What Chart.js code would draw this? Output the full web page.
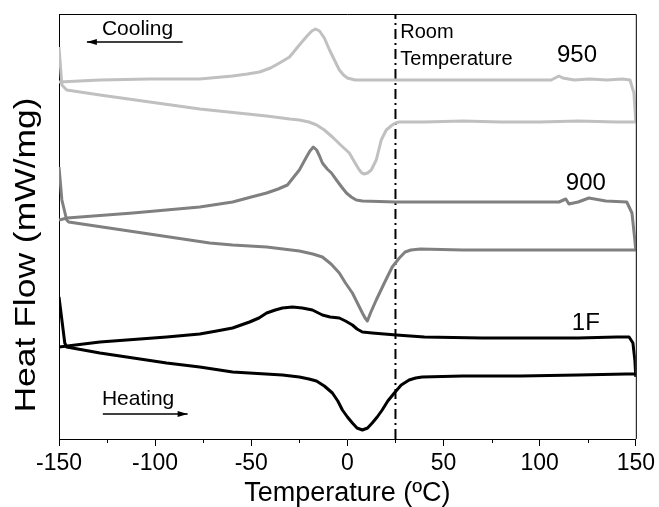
<!DOCTYPE html>
<html lang="en">
<head>
    <meta charset="UTF-8">
    <title>DSC Heat Flow</title>
    <style>
        body {
            margin: 0;
            background-color: #ffffff;
        }

        #wrap {
            width: 659px;
            height: 507px;
        }
    </style>
</head>
<body>
    <div id="wrap">
        <canvas id="myChart" width="659" height="507"></canvas>
    </div>

    <script src="https://cdn.jsdelivr.net/npm/chart.js"></script>
    <script>
        // temperatures in degC, heat flow in arbitrary mW/mg offsets (curves are stacked)
        var heat950T = [-150, -148.5, -146, -128.7, -102.8, -76.8, -42, -30, -25, -20, -16, -12, -7.8, -3.5, 1, 4, 6.2, 7.5, 8.8, 10.5, 12.4, 15, 17.6, 20.2, 23.3, 25, 27, 40, 60, 80, 100, 120, 140, 150];
        var heat950HF = [3.92, 3.54, 3.49, 3.44, 3.37, 3.30, 3.23, 3.20, 3.19, 3.17, 3.14, 3.09, 3.02, 2.94, 2.86, 2.76, 2.69, 2.66, 2.65, 2.66, 2.69, 2.79, 2.99, 3.09, 3.14, 3.16, 3.17, 3.17, 3.18, 3.17, 3.17, 3.18, 3.17, 3.17];
        var cool950T = [150, 149, 147, 143, 135, 126, 118, 112, 110, 106, 95, 80, 60, 40, 25, 10, 4, 0, -2, -4.2, -6.5, -9.3, -12, -14.5, -16.6, -18.5, -21, -25, -30.1, -35.3, -40, -45.7, -52, -59.7, -76.8, -102.8, -128.7, -150];
        var cool950HF = [3.17, 3.46, 3.59, 3.60, 3.59, 3.60, 3.59, 3.61, 3.63, 3.59, 3.59, 3.59, 3.59, 3.59, 3.59, 3.59, 3.59, 3.61, 3.64, 3.69, 3.78, 3.89, 4.01, 4.08, 4.10, 4.08, 4.03, 3.94, 3.82, 3.76, 3.71, 3.67, 3.65, 3.63, 3.60, 3.60, 3.59, 3.57];

        var heat900T = [-150, -148.5, -146, -145, -110, -71.6, -59.7, -42, -25, -18, -13, -8.5, -4.2, -1, 2.6, 5.2, 7.8, 9.2, 10.4, 12, 15, 19.2, 23.3, 27, 30, 33, 38, 60, 90, 120, 150];
        var heat900HF = [2.72, 2.39, 2.19, 2.17, 2.07, 1.96, 1.94, 1.92, 1.88, 1.85, 1.82, 1.75, 1.66, 1.56, 1.46, 1.36, 1.26, 1.21, 1.18, 1.26, 1.39, 1.56, 1.72, 1.81, 1.87, 1.89, 1.90, 1.89, 1.89, 1.89, 1.89];
        var cool900T = [150, 149.5, 148, 145.3, 134.4, 125.6, 120, 115.2, 113.6, 110, 90, 60, 25, 7.8, 4.6, 2, -0.5, -3, -5.7, -8.3, -10.5, -13, -14.5, -16, -17.7, -19.5, -21.3, -23, -25, -31.2, -36, -42, -50, -59.7, -76.8, -111.6, -145.8, -150];
        var cool900HF = [1.88, 1.99, 2.26, 2.37, 2.38, 2.41, 2.37, 2.35, 2.40, 2.37, 2.37, 2.37, 2.37, 2.38, 2.39, 2.42, 2.46, 2.52, 2.59, 2.66, 2.70, 2.76, 2.83, 2.89, 2.92, 2.88, 2.82, 2.76, 2.69, 2.54, 2.50, 2.46, 2.42, 2.37, 2.32, 2.26, 2.21, 2.19];

        var heat1FT = [-150, -147, -146, -128.7, -94, -76.8, -59.7, -33.8, -25, -20, -16.1, -12, -7.8, -5, -2.6, 0, 2.6, 5, 7.8, 10.5, 12.9, 15.5, 18.1, 21, 24.4, 28, 32.1, 35.5, 38.9, 60, 90, 120, 145, 150];
        var heat1FHF = [1.42, 0.96, 0.92, 0.86, 0.76, 0.72, 0.67, 0.64, 0.62, 0.60, 0.58, 0.53, 0.46, 0.38, 0.29, 0.22, 0.16, 0.11, 0.09, 0.11, 0.16, 0.22, 0.29, 0.38, 0.46, 0.54, 0.59, 0.61, 0.62, 0.63, 0.63, 0.64, 0.65, 0.65];
        var cool1FT = [150, 149.5, 148.5, 146.5, 140, 120, 100, 70, 40, 25.4, 12.9, 7.8, 5, 2.6, -1, -4.2, -9, -13, -18.2, -23.5, -28.6, -33.8, -37.5, -42, -46, -50.9, -59.7, -68, -76.8, -94, -128.7, -150];
        var cool1FHF = [0.62, 0.79, 0.96, 1.02, 1.02, 1.01, 1.01, 1.01, 1.02, 1.04, 1.06, 1.07, 1.10, 1.14, 1.18, 1.21, 1.22, 1.24, 1.29, 1.31, 1.32, 1.31, 1.29, 1.26, 1.21, 1.17, 1.11, 1.08, 1.05, 1.02, 0.97, 0.92];

        var roomTemp = 25;
        var xTicks = [-150, -100, -50, 0, 50, 100, 150];
        var xMinorTicks = [-125, -75, -25, 25, 75, 125];
        var sampleLabels = [
            { text: '950', t: 109, hf: 3.77 },
            { text: '900', t: 113.6, hf: 2.49 },
            { text: '1F', t: 116.7, hf: 1.09 }
        ];

        var FONT = '"Liberation Sans", Arial, sans-serif';

        function pts(ts, vs) {
            return ts.map(function (t, i) { return { x: t, y: vs[i] }; });
        }

        function curve(ts, vs, color) {
            return {
                data: pts(ts, vs),
                borderColor: color,
                borderWidth: 3,
                borderJoinStyle: 'round',
                pointRadius: 0,
                showLine: true,
                tension: 0,
                fill: false
            };
        }

        function arrow(ctx, x1, x2, y) {
            var dir = x2 > x1 ? 1 : -1;
            ctx.beginPath();
            ctx.moveTo(x1, y);
            ctx.lineTo(x2, y);
            ctx.stroke();
            ctx.beginPath();
            ctx.moveTo(x2, y);
            ctx.lineTo(x2 - dir * 10, y - 3);
            ctx.lineTo(x2 - dir * 10, y + 3);
            ctx.closePath();
            ctx.fill();
        }

        var decorations = {
            id: 'decorations',
            afterDraw: function (chart) {
                var ctx = chart.ctx;
                var a = chart.chartArea;
                var xs = chart.scales.x;
                var ys = chart.scales.y;
                ctx.save();
                ctx.strokeStyle = '#000';
                ctx.fillStyle = '#000';
                ctx.lineWidth = 1;

                // frame top + right
                ctx.beginPath();
                ctx.moveTo(a.left, a.top + 0.5);
                ctx.lineTo(a.right + 0.5, a.top + 0.5);
                ctx.lineTo(a.right + 0.5, a.bottom);
                ctx.stroke();

                // minor ticks
                xMinorTicks.forEach(function (t) {
                    var px = Math.round(xs.getPixelForValue(t)) + 0.5;
                    ctx.beginPath();
                    ctx.moveTo(px, a.bottom);
                    ctx.lineTo(px, a.bottom + 4);
                    ctx.stroke();
                });

                // y title, stretched like the original
                ctx.save();
                ctx.font = '30px ' + FONT;
                var title = 'Heat Flow (mW/mg)';
                var w = ctx.measureText(title).width;
                ctx.translate(27, 255);
                ctx.rotate(-Math.PI / 2);
                ctx.scale(315 / w, 1);
                ctx.textAlign = 'center';
                ctx.textBaseline = 'middle';
                ctx.fillText(title, 0, 0);
                ctx.restore();

                ctx.textAlign = 'left';
                ctx.textBaseline = 'alphabetic';

                // cooling / heating
                ctx.font = '21px ' + FONT;
                ctx.fillText('Cooling', xs.getPixelForValue(-127.7), ys.getPixelForValue(4.04));
                ctx.fillText('Heating', xs.getPixelForValue(-127.7), ys.getPixelForValue(0.34));
                ctx.lineWidth = 1.5;
                arrow(ctx, xs.getPixelForValue(-85.7), xs.getPixelForValue(-135.5), Math.round(ys.getPixelForValue(3.97)));
                arrow(ctx, xs.getPixelForValue(-127.2), xs.getPixelForValue(-83.1), Math.round(ys.getPixelForValue(0.25)));

                // room temperature
                ctx.font = '20px ' + FONT;
                ctx.fillText('Room', xs.getPixelForValue(27.5), ys.getPixelForValue(4.01));
                ctx.fillText('Temperature', xs.getPixelForValue(27.5), ys.getPixelForValue(3.74));

                // sample names
                ctx.font = '24px ' + FONT;
                sampleLabels.forEach(function (l) {
                    ctx.fillText(l.text, xs.getPixelForValue(l.t), ys.getPixelForValue(l.hf));
                });
                ctx.restore();
            }
        };

        var datasets = [
            curve(heat950T, heat950HF, '#c0c0c0'),
            curve(cool950T, cool950HF, '#c0c0c0'),
            curve(heat900T, heat900HF, '#808080'),
            curve(cool900T, cool900HF, '#808080'),
            curve(heat1FT, heat1FHF, '#000000'),
            curve(cool1FT, cool1FHF, '#000000'),
            {
                data: [{ x: roomTemp, y: 0 }, { x: roomTemp, y: 4.25 }],
                borderColor: '#000000',
                borderWidth: 2,
                borderDash: [10, 4, 2, 4],
                pointRadius: 0,
                showLine: true
            }
        ];

        new Chart(document.getElementById('myChart'), {
            type: 'scatter',
            data: { datasets: datasets },
            options: {
                responsive: false,
                animation: false,
                layout: { padding: { top: 14, right: 22, left: 0, bottom: 0 } },
                plugins: {
                    legend: { display: false },
                    tooltip: { enabled: false }
                },
                scales: {
                    x: {
                        type: 'linear',
                        min: -150,
                        max: 150,
                        afterBuildTicks: function (scale) {
                            scale.ticks = xTicks.map(function (v) { return { value: v }; });
                        },
                        afterFit: function (scale) { scale.height = 68; },
                        grid: {
                            drawOnChartArea: false,
                            tickLength: 7,
                            color: '#000'
                        },
                        border: { color: '#000', width: 1 },
                        ticks: {
                            color: '#000',
                            padding: 4,
                            maxRotation: 0,
                            font: { family: FONT, size: 23 }
                        },
                        title: {
                            display: true,
                            text: 'Temperature (\u00baC)',
                            color: '#000',
                            padding: { top: 0, bottom: -3 },
                            font: { family: FONT, size: 27 }
                        }
                    },
                    y: {
                        type: 'linear',
                        min: 0,
                        max: 4.25,
                        afterFit: function (scale) { scale.width = 59; },
                        grid: { display: false },
                        border: { color: '#000', width: 1 },
                        ticks: { display: false }
                    }
                }
            },
            plugins: [decorations]
        });
    </script>
</body>
</html>
